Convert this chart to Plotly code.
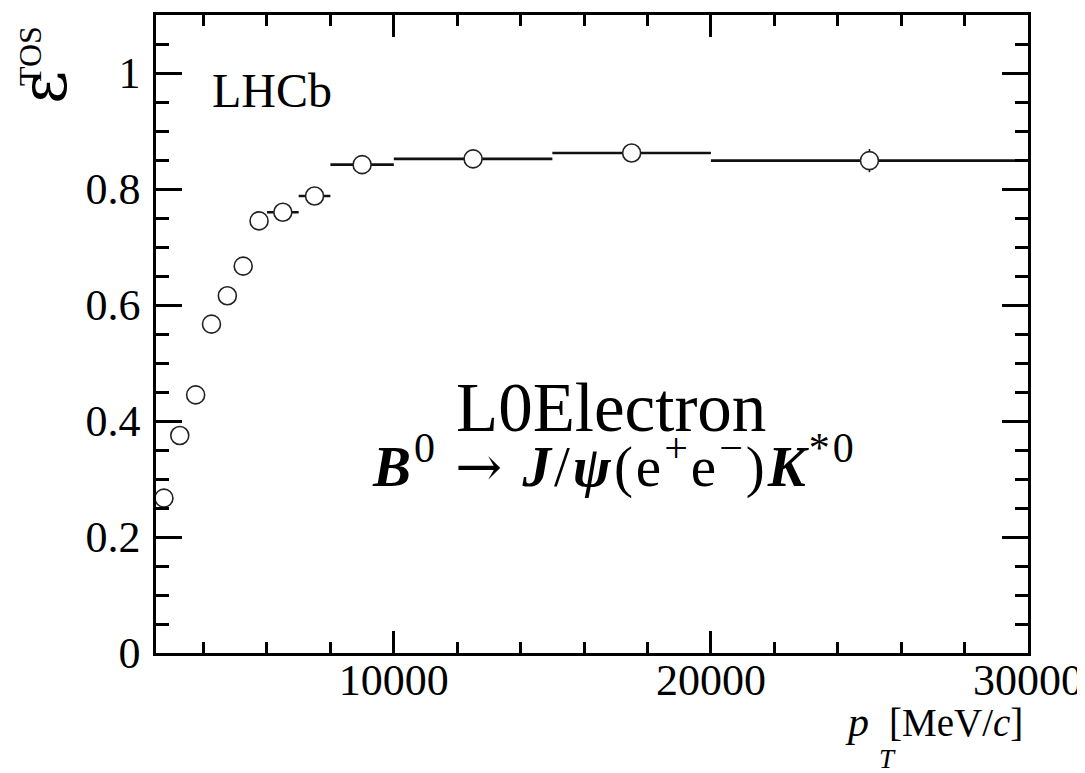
import plotly.graph_objects as go

# ---- data ----
pt_center = [2750, 3250, 3750, 4250, 4750, 5250, 5750, 6500, 7500, 9000, 12500, 17500, 25000]
pt_halfwidth = [250, 250, 250, 250, 250, 250, 250, 500, 500, 1000, 2500, 2500, 5000]
eff_tos = [0.267, 0.375, 0.445, 0.567, 0.616, 0.667, 0.745, 0.760, 0.788, 0.842, 0.852, 0.862, 0.849]
eff_err = [0.010, 0.010, 0.010, 0.010, 0.010, 0.010, 0.010, 0.008, 0.008, 0.006, 0.006, 0.007, 0.020]

x_tickvals = [10000, 20000, 30000]
x_ticktext = ["10000", "20000", "30000"]
y_tickvals = [0, 0.2, 0.4, 0.6, 0.8, 1.0]
y_ticktext = ["0", "0.2", "0.4", "0.6", "0.8", "1"]

SERIF = "Liberation Serif"

fig = go.Figure()
fig.add_trace(go.Scatter(
    x=pt_center, y=eff_tos, mode="markers",
    marker=dict(symbol="circle", size=18, color="white",
                line=dict(color="#222222", width=1.6)),
    error_x=dict(type="data", array=pt_halfwidth, color="#111111", thickness=2.6, width=0),
    error_y=dict(type="data", array=eff_err, color="#111111", thickness=1.5, width=0),
    showlegend=False, cliponaxis=False,
))

axis_common = dict(
    showgrid=False, zeroline=False, showline=True, linecolor="black", linewidth=2.5,
    mirror="allticks", ticks="inside", tickcolor="black", tickwidth=2.5,
    tickfont=dict(family=SERIF, size=44, color="black"), automargin=False,
)

fig.update_xaxes(
    range=[2500, 30000], tickmode="array", tickvals=x_tickvals, ticktext=x_ticktext,
    ticklen=22,
    minor=dict(dtick=2000, tick0=0, ticks="inside", ticklen=11, tickwidth=2.5, tickcolor="black"),
    ticklabelstandoff=-14,
    **axis_common,
)
fig.update_yaxes(
    range=[0, 1.1], tickmode="array", tickvals=y_tickvals, ticktext=y_ticktext,
    ticklen=26,
    minor=dict(dtick=0.05, tick0=0, ticks="inside", ticklen=13, tickwidth=2.5, tickcolor="black"),
    ticklabelstandoff=4,
    **axis_common,
)

SUP = '<sup><span style="font-size:42px">%s</span></sup>'
formula = ('<span style="letter-spacing:3px">'
           + "<b><i>B</i></b>" + SUP % "0"
           + ' <span style="font-family:DejaVu Serif;font-size:56px">\u2192</span> '
           + "<b><i>J</i></b>/<b><i>\u03c8</i></b>(e" + SUP % "+" + "e" + SUP % "\u2212" + ")"
           + "<b><i>K</i></b>" + SUP % "*0" + "</span>")

def px_x(p):  # page pixel -> paper x
    return (p - 156) / 872.0

def px_y(p):  # page pixel -> paper y
    return (653 - p) / 638.0

annotations = [
    dict(text="LHCb", x=4200, y=0.97, xref="x", yref="y", xanchor="left", yanchor="middle",
         showarrow=False, font=dict(family=SERIF, size=48, color="black")),
    dict(text="L0Electron", x=16850, y=0.422, xref="x", yref="y", xanchor="center", yanchor="middle",
         showarrow=False, font=dict(family=SERIF, size=69, color="black")),
    dict(text=formula,
         x=16970, y=0.33, xref="x", yref="y", xanchor="center", yanchor="middle",
         showarrow=False, font=dict(family=SERIF, size=57, color="black")),
    # x-axis title: p, low subscript T, unit
    dict(text="<i>p</i>", x=px_x(871), y=-0.069, xref="paper", yref="paper",
         xanchor="right", yanchor="top", showarrow=False,
         font=dict(family=SERIF, size=42, color="black")),
    dict(text="<i>T</i>", x=px_x(887), y=px_y(759), xref="paper", yref="paper",
         xanchor="center", yanchor="middle", showarrow=False,
         font=dict(family=SERIF, size=27, color="black")),
    dict(text="[MeV/<i>c</i>]", x=px_x(1025), y=px_y(699), xref="paper", yref="paper",
         xanchor="right", yanchor="top", showarrow=False,
         font=dict(family=SERIF, size=39, color="black")),
    # y-axis title, rotated: epsilon and its TOS superscript
    dict(text="\u03b5", x=px_x(44), y=px_y(88), xref="paper", yref="paper",
         xanchor="center", yanchor="middle", textangle=-90, showarrow=False,
         font=dict(family="DejaVu Serif", size=64, color="black")),
    dict(text="TOS", x=px_x(30), y=px_y(56), xref="paper", yref="paper",
         xanchor="center", yanchor="middle", textangle=-90, showarrow=False,
         font=dict(family=SERIF, size=32, color="black")),
]
# the page body has an 8 px default margin, so margins are reduced by 8 px
fig.update_layout(
    width=1085, height=773,
    margin=dict(l=148, r=65, t=7, b=128),
    paper_bgcolor="white", plot_bgcolor="white",
    annotations=annotations,
)

fig.write_html("out.html")
